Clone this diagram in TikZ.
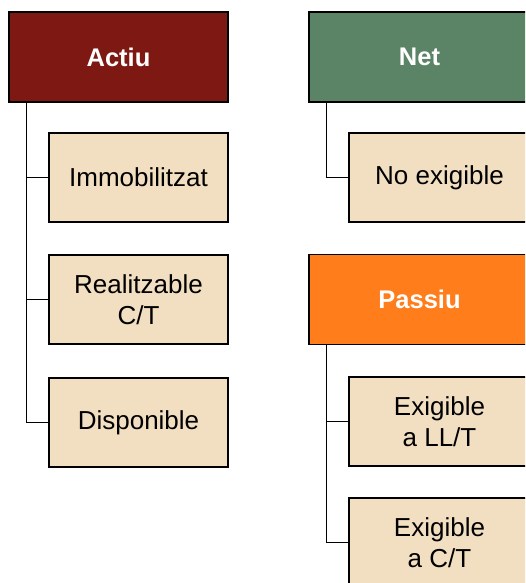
\documentclass[tikz,border=0pt]{standalone}
\usepackage{fontspec}
\setmainfont{Liberation Sans}
\begin{document}
\begin{tikzpicture}[x=1pt,y=-1pt,
  base/.style={draw=black,line width=1.4pt,minimum width=219pt,minimum height=90pt,inner sep=0pt,align=center,font=\fontsize{26}{31}\selectfont},
  head/.style={base,text=white,font=\fontsize{25.5}{31}\selectfont\bfseries},
  sub/.style={base,fill=subfill,minimum width=179pt,minimum height=89pt},
  link/.style={draw=black,line width=1.5pt}]
\definecolor{actfill}{HTML}{7E1812}
\definecolor{netfill}{HTML}{5B8466}
\definecolor{pasfill}{HTML}{FF7D1B}
\definecolor{subfill}{HTML}{F2DFC1}
\useasboundingbox (0,0) rectangle (525,583);
\clip (0,0) rectangle (525,583);
\node[head,fill=actfill] (act) at (118.5,57) {Actiu};
\node[head,fill=netfill,minimum width=221pt] (net) at (419.5,57) {Net};
\node[head,fill=pasfill,minimum width=221pt] (pas) at (419.5,299.5) {Passiu};
\node[sub] (imm) at (138.5,177.5) {Immobilitzat};
\node[sub] (rea) at (138.5,299.5) {Realitzable\\C/T};
\node[sub] (dis) at (138.5,422.5) {Disponible};
\node[sub,minimum width=181pt] (noe) at (439.5,177.5) {No exigible};
\node[sub,minimum width=181pt] (ell) at (439.5,421.5) {Exigible\\a LL/T};
\node[sub,minimum width=181pt] (ect) at (439.5,542.5) {Exigible\\a C/T};
\draw[link] ([xshift=18pt]act.south west) |- (imm.west);
\draw[link] ([xshift=18pt]act.south west) |- (rea.west);
\draw[link] ([xshift=18pt]act.south west) |- (dis.west);
\draw[link] ([xshift=18pt]net.south west) |- (noe.west);
\draw[link] ([xshift=18pt]pas.south west) |- (ell.west);
\draw[link] ([xshift=18pt]pas.south west) |- (ect.west);
\end{tikzpicture}
\end{document}
